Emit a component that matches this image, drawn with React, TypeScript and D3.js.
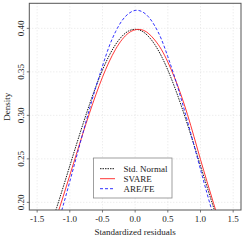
import React from "react";
import * as d3 from "d3";

const xs = [-1.3, -1.2, -1.1, -1.0, -0.9, -0.8, -0.7, -0.6, -0.5, -0.4, -0.3, -0.2, -0.1, 0, 0.1, 0.2, 0.3, 0.4, 0.5, 0.6, 0.7, 0.8, 0.9, 1.0, 1.1, 1.2, 1.3];
const stdNormal = [0.1714, 0.1942, 0.2179, 0.2420, 0.2661, 0.2897, 0.3123, 0.3332, 0.3521, 0.3683, 0.3814, 0.3910, 0.3970, 0.3989, 0.3970, 0.3910, 0.3814, 0.3683, 0.3521, 0.3332, 0.3123, 0.2897, 0.2661, 0.2420, 0.2179, 0.1942, 0.1714];
const svare = [0.1615, 0.1838, 0.2071, 0.2311, 0.2553, 0.2792, 0.3023, 0.3240, 0.3439, 0.3613, 0.3759, 0.3871, 0.3947, 0.3983, 0.3984, 0.3944, 0.3866, 0.3759, 0.3613, 0.3439, 0.3240, 0.3011, 0.2756, 0.2492, 0.2238, 0.1989, 0.1747];
const areFe = [0.1467, 0.1710, 0.1969, 0.2240, 0.2518, 0.2796, 0.3069, 0.3328, 0.3566, 0.3788, 0.3961, 0.4090, 0.4170, 0.4206, 0.4194, 0.4136, 0.4029, 0.3878, 0.3674, 0.3450, 0.3201, 0.2934, 0.2658, 0.2378, 0.2103, 0.1838, 0.1586];

const xTicks = [-1.5, -1.0, -0.5, 0.0, 0.5, 1.0, 1.5];
const yTicks = [0.20, 0.25, 0.30, 0.35, 0.40];
const seriesNames = ["Std. Normal", "SVARE", "ARE/FE"];

const FONT = "'Liberation Serif', 'DejaVu Serif', serif";

export default function App() {
  const left = 29.3, right = 241, top = 3.3, bottom = 210;
  const x = d3.scaleLinear().domain([-1.62, 1.62]).range([left, right]);
  const y = d3.scaleLinear().domain([0.1912, 0.4288]).range([bottom, top]);
  const line = d3.line<number>().x((_, i) => x(xs[i])).y((d) => y(d)).curve(d3.curveNatural);

  const series = [
    { name: seriesNames[0], values: stdNormal, color: "#000000", dash: "1.5,1" },
    { name: seriesNames[1], values: svare, color: "#ff2020", dash: "" },
    { name: seriesNames[2], values: areFe, color: "#1a1aff", dash: "3,2" },
  ];

  const legX = 93.5, legY = 158, legW = 78.5, legH = 40;

  return (
    <svg width={245} height={245} style={{ position: "absolute", left: 0, top: 0, background: "#fff" }}>
      <defs>
        <clipPath id="plotclip">
          <rect x={left} y={top} width={right - left} height={bottom - top} />
        </clipPath>
      </defs>
      <rect x={0} y={0} width={245} height={245} fill="#fff" />
      {xTicks.map((t) => (
        <line key={"gx" + t} x1={x(t)} x2={x(t)} y1={top} y2={bottom} stroke="#e0e0e0" strokeWidth={0.8} strokeDasharray="1,2" />
      ))}
      {yTicks.map((t) => (
        <line key={"gy" + t} x1={left} x2={right} y1={y(t)} y2={y(t)} stroke="#e0e0e0" strokeWidth={0.8} strokeDasharray="1,2" />
      ))}
      <g clipPath="url(#plotclip)">
        {series.map((s) => (
          <path key={s.name} d={line(s.values) || ""} fill="none" stroke={s.color} strokeWidth={0.9} strokeDasharray={s.dash || undefined} />
        ))}
      </g>
      <rect x={left} y={top} width={right - left} height={bottom - top} fill="none" stroke="#555" strokeWidth={1} />
      {xTicks.map((t) => (
        <g key={"tx" + t}>
          <line x1={x(t)} x2={x(t)} y1={bottom} y2={bottom + 2.5} stroke="#555" strokeWidth={0.8} />
          <text x={x(t)} y={221.5} fontSize={9} fontFamily={FONT} textAnchor="middle" fill="#222">
            {t.toFixed(1)}
          </text>
        </g>
      ))}
      {yTicks.map((t) => (
        <g key={"ty" + t}>
          <line x1={left - 2.5} x2={left} y1={y(t)} y2={y(t)} stroke="#555" strokeWidth={0.8} />
          <text transform={`translate(24,${y(t)}) rotate(-90)`} fontSize={9} fontFamily={FONT} textAnchor="middle" fill="#222">
            {t.toFixed(2)}
          </text>
        </g>
      ))}
      <text x={(left + right) / 2} y={235} fontSize={9} fontFamily={FONT} textAnchor="middle" fill="#222">
        Standardized residuals
      </text>
      <text transform={`translate(9.5,${(top + bottom) / 2}) rotate(-90)`} fontSize={9} fontFamily={FONT} textAnchor="middle" fill="#222">
        Density
      </text>
      <rect x={legX} y={legY} width={legW} height={legH} fill="#fff" stroke="#888" strokeWidth={0.8} />
      {series.map((s, i) => (
        <g key={"leg" + s.name}>
          <line x1={100} x2={115} y1={168.7 + i * 10} y2={168.7 + i * 10} stroke={s.color} strokeWidth={0.9} strokeDasharray={s.dash || undefined} />
          <text x={123.5} y={171.5 + i * 10} fontSize={9} fontFamily={FONT} fill="#222">
            {s.name}
          </text>
        </g>
      ))}
    </svg>
  );
}
